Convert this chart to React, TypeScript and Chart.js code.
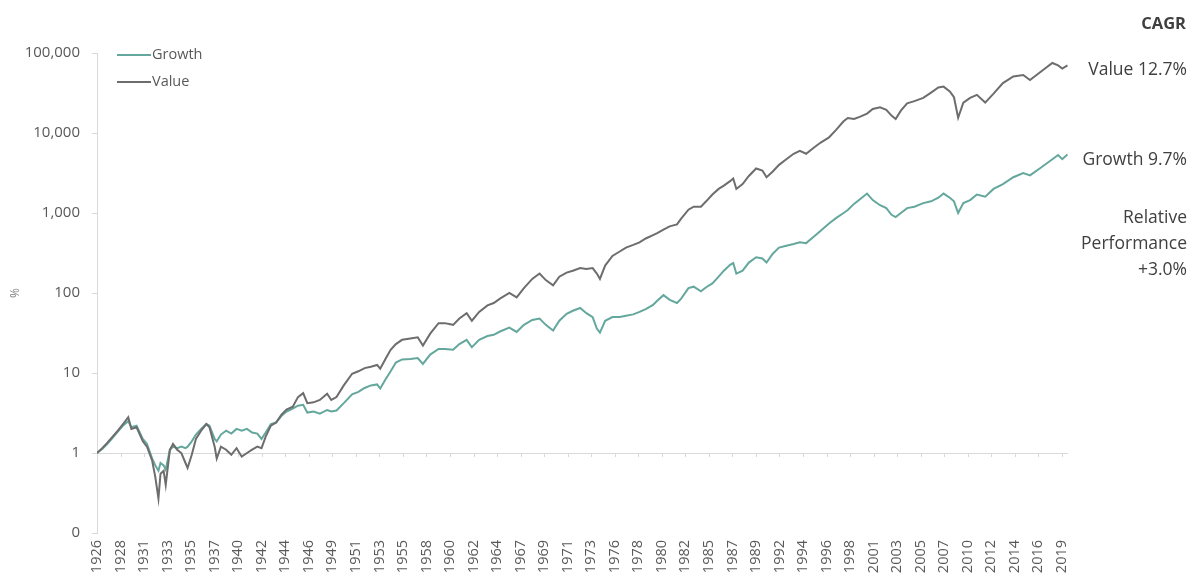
import React, { useEffect, useRef } from "react";
import { Chart, registerables } from "chart.js";

Chart.register(...registerables);

// ---------- data ----------
const YEARS = [
  1926.5, 1927.0, 1927.5, 1928.0, 1928.5, 1929.0, 1929.5, 1929.8, 1930.3, 1930.9,
  1931.3, 1931.8, 1932.1, 1932.4, 1932.6, 1932.9, 1933.1, 1933.5, 1933.8, 1934.2,
  1934.6, 1935.0, 1935.2, 1935.6, 1936.0, 1936.5, 1937.0, 1937.3, 1937.8, 1938.0,
  1938.4, 1938.9, 1939.4, 1939.9, 1940.4, 1940.9, 1941.4, 1941.9, 1942.3, 1942.7,
  1943.2, 1943.7, 1944.2, 1944.7, 1945.3, 1945.8, 1946.3, 1946.7, 1947.3, 1947.9,
  1948.6, 1949.0, 1949.5, 1950.2, 1951.0, 1951.6, 1952.2, 1952.8, 1953.4, 1953.7,
  1954.2, 1954.7, 1955.2, 1955.8, 1956.6, 1957.3, 1957.8, 1958.5, 1959.3, 1959.9,
  1960.7, 1961.3, 1962.0, 1962.5, 1963.2, 1964.0, 1964.6, 1965.2, 1966.1, 1966.8,
  1967.5, 1968.3, 1969.0, 1969.6, 1970.3, 1970.9, 1971.6, 1972.2, 1972.9, 1973.5,
  1974.1, 1974.5, 1974.8, 1975.3, 1976.0, 1976.7, 1977.3, 1978.0, 1978.6, 1979.2,
  1979.9, 1980.3, 1980.9, 1981.5, 1982.2, 1982.6, 1983.3, 1983.8, 1984.5, 1985.0,
  1985.6, 1986.2, 1986.7, 1987.3, 1987.6, 1987.9, 1988.5, 1989.1, 1989.8, 1990.4,
  1990.8, 1991.4, 1992.0, 1992.7, 1993.4, 1994.0, 1994.6, 1995.3, 1996.0, 1996.8,
  1997.5, 1998.2, 1998.6, 1999.2, 1999.8, 2000.45, 2001.0, 2001.7, 2002.3, 2002.8,
  2003.2, 2003.7, 2004.3, 2005.0, 2005.85, 2006.6, 2007.3, 2007.8, 2008.4, 2008.8,
  2009.2, 2009.7, 2010.35, 2011.0, 2011.8, 2012.6, 2013.5, 2014.5, 2015.45, 2016.1,
  2017.1, 2018.25, 2018.8, 2019.2, 2019.7,
];

const VALUE = [
  1.0, 1.15, 1.35, 1.6, 1.9, 2.3, 2.8, 2.0, 2.1, 1.4,
  1.2, 0.8, 0.5, 0.27, 0.55, 0.6, 0.4, 1.1, 1.3, 1.1,
  1.0, 0.75, 0.65, 0.95, 1.5, 1.9, 2.3, 2.1, 1.2, 0.85,
  1.2, 1.1, 0.95, 1.15, 0.9, 1.0, 1.1, 1.2, 1.15, 1.6,
  2.2, 2.4, 3.0, 3.5, 3.8, 5.0, 5.6, 4.2, 4.3, 4.6,
  5.5, 4.6, 5.0, 7.0, 9.8, 10.5, 11.5, 12.0, 12.6, 11.3,
  15.0, 19.5, 23.0, 26.0, 27.0, 28.0, 22.0, 31.0, 42.0, 42.0,
  40.0, 48.0, 56.0, 45.0, 58.0, 70.0, 75, 85, 100, 88,
  115, 150, 175, 145, 125, 160, 180, 190, 205, 200,
  205, 175, 150, 220, 290, 330, 370, 400, 430, 480,
  530, 560, 620, 680, 720, 850, 1100, 1200, 1200, 1400,
  1700, 2000, 2200, 2500, 2700, 2000, 2300, 2900, 3600, 3400,
  2800, 3300, 4000, 4700, 5500, 6000, 5500, 6500, 7600, 8800,
  11000, 14000, 15400, 15000, 16000, 17500, 20000, 21000, 19500, 16500,
  15000, 19000, 23500, 25000, 27500, 32000, 37000, 38000, 33000, 28000,
  15500, 24000, 27500, 30000, 24000, 31000, 42000, 51000, 53000, 46000,
  58000, 75000, 70000, 64000, 70000,
];

const GROWTH = [
  1.0, 1.12, 1.3, 1.55, 1.85, 2.2, 2.5, 2.1, 2.2, 1.5,
  1.3, 0.85, 0.7, 0.6, 0.75, 0.7, 0.62, 1.1, 1.2, 1.15,
  1.2, 1.15, 1.2, 1.4, 1.7, 2.0, 2.3, 2.2, 1.5, 1.4,
  1.7, 1.9, 1.75, 2.0, 1.9, 2.0, 1.8, 1.75, 1.5, 1.8,
  2.3, 2.4, 2.9, 3.3, 3.6, 3.9, 4.0, 3.2, 3.3, 3.1,
  3.45, 3.3, 3.4, 4.2, 5.4, 5.8, 6.5, 7.0, 7.2, 6.4,
  8.3, 10.5, 13.5, 14.8, 15.0, 15.4, 13.0, 17.0, 20.0, 20.0,
  19.5, 23.0, 26.0, 21.0, 26.0, 29.0, 30, 33, 37, 32.6,
  40, 46, 48, 40, 34, 45, 55, 60, 65, 56,
  50, 36, 32, 45, 50, 50, 52, 54, 58, 63,
  71, 80, 94, 82, 75, 85, 115, 120, 105, 118,
  132, 160, 190, 225, 237, 175, 190, 240, 280, 270,
  240, 310, 370, 390, 410, 430, 420, 500, 600, 740,
  870, 1000, 1090, 1300, 1500, 1750, 1450, 1250, 1150, 950,
  890, 1000, 1150, 1200, 1330, 1400, 1550, 1750, 1550, 1400,
  1000, 1330, 1450, 1700, 1600, 2000, 2300, 2800, 3150, 2950,
  3650, 4700, 5300, 4700, 5400,
];

const SERIES_NAMES = ["Growth", "Value"];
const SERIES_COLORS = ["#64a79d", "#6d6d6d"];

const X_TICK_LABELS = [
  "1926", "1928", "1931", "1933", "1935", "1937", "1940", "1942", "1944", "1946",
  "1949", "1951", "1953", "1955", "1958", "1960", "1962", "1964", "1967", "1969",
  "1971", "1973", "1976", "1978", "1980", "1982", "1985", "1987", "1989", "1992",
  "1994", "1996", "1998", "2001", "2003", "2005", "2007", "2010", "2012", "2014",
  "2016", "2019",
];
const X_MIN = 1926.5;
const X_MAX = 2019.75;
const X_TICK_STEP = 2.26;

const Y_TICKS = [0.1, 1, 10, 100, 1000, 10000, 100000];
const Y_TICK_LABELS = ["0", "1", "10", "100", "1,000", "10,000", "100,000"];

const CAGR_TITLE = "CAGR";
const CAGR_LABELS = ["Value 12.7%", "Growth 9.7%"];
const RELATIVE_LINES = ["Relative", "Performance", "+3.0%"];

const FONT = '"Open Sans", "Noto Sans", sans-serif';

export default function App() {
  const canvasRef = useRef<HTMLCanvasElement | null>(null);

  useEffect(() => {
    const canvas = canvasRef.current;
    if (!canvas) return;

    const overlay = {
      id: "overlay",
      beforeDatasetsDraw(chart: any) {
        const { ctx, scales } = chart;
        const xs = scales.x;
        const y1 = scales.y.getPixelForValue(1);
        ctx.save();
        ctx.strokeStyle = "#d9d9d9";
        ctx.lineWidth = 1;
        xs.ticks.forEach((t: any) => {
          const px = Math.round(xs.getPixelForValue(t.value)) + 0.5;
          ctx.beginPath();
          ctx.moveTo(px, y1);
          ctx.lineTo(px, y1 + 4);
          ctx.stroke();
        });
        ctx.restore();
      },
      afterDraw(chart: any) {
        const { ctx } = chart;
        ctx.save();
        // legend
        const legendRows = [55, 82];
        SERIES_NAMES.forEach((name, i) => {
          const y = legendRows[i];
          ctx.strokeStyle = SERIES_COLORS[i];
          ctx.lineWidth = 2;
          ctx.beginPath();
          ctx.moveTo(117, y);
          ctx.lineTo(151, y);
          ctx.stroke();
          ctx.fillStyle = "#595959";
          ctx.font = `14.5px ${FONT}`;
          ctx.textAlign = "left";
          ctx.textBaseline = "middle";
          ctx.fillText(name, 152, y);
        });
        // right annotations
        ctx.fillStyle = "#404040";
        ctx.textAlign = "right";
        ctx.textBaseline = "middle";
        ctx.font = `bold 16.5px ${FONT}`;
        ctx.fillText(CAGR_TITLE, 1186, 24);
        ctx.font = `17.5px ${FONT}`;
        ctx.fillText(CAGR_LABELS[0], 1187, 70);
        ctx.fillText(CAGR_LABELS[1], 1187, 160);
        const relY = [218, 244, 270];
        RELATIVE_LINES.forEach((t, i) => ctx.fillText(t, 1187, relY[i]));
        ctx.restore();
      },
    };

    const chart = new Chart(canvas, {
      type: "line",
      data: {
        datasets: [
          {
            label: SERIES_NAMES[1],
            data: YEARS.map((x, i) => ({ x, y: VALUE[i] })),
            borderColor: SERIES_COLORS[1],
            backgroundColor: SERIES_COLORS[1],
            borderWidth: 2,
            pointRadius: 0,
            tension: 0,
            fill: false,
          },
          {
            label: SERIES_NAMES[0],
            data: YEARS.map((x, i) => ({ x, y: GROWTH[i] })),
            borderColor: SERIES_COLORS[0],
            backgroundColor: SERIES_COLORS[0],
            borderWidth: 2,
            pointRadius: 0,
            tension: 0,
            fill: false,
          },
        ],
      },
      options: {
        animation: false,
        responsive: false,
        maintainAspectRatio: false,
        layout: { padding: { left: 8, top: 53, right: 132, bottom: 0 } },
        plugins: {
          legend: { display: false },
          tooltip: { enabled: false },
          title: { display: false },
        },
        scales: {
          x: {
            type: "linear",
            min: X_MIN,
            max: X_MAX,
            afterBuildTicks: (scale: any) => {
              scale.ticks = X_TICK_LABELS.map((_, i) => ({ value: X_MIN + i * X_TICK_STEP }));
            },
            afterFit: (scale: any) => {
              scale.height = 48;
            },
            grid: { display: false, drawTicks: false },
            border: { display: false },
            ticks: {
              autoSkip: false,
              maxRotation: 90,
              minRotation: 90,
              padding: 7,
              color: "#595959",
              font: { family: FONT, size: 14.5 },
              callback: (_v: any, i: number) => X_TICK_LABELS[i],
            },
          },
          y: {
            type: "logarithmic",
            min: 0.1,
            max: 100000,
            afterBuildTicks: (scale: any) => {
              scale.ticks = Y_TICKS.map((v) => ({ value: v }));
            },
            afterFit: (scale: any) => {
              scale.width = 89;
            },
            title: {
              display: true,
              text: "%",
              color: "#7f7f7f",
              font: { family: FONT, size: 12 },
              padding: 0,
            },
            grid: {
              drawOnChartArea: true,
              color: (c: any) => (c.tick && c.tick.value === 1 ? "#d9d9d9" : "rgba(0,0,0,0)"),
              tickColor: "#d9d9d9",
              tickLength: 5,
              lineWidth: 1,
            },
            border: { display: true, color: "#d9d9d9" },
            ticks: {
              padding: 12,
              color: "#595959",
              font: { family: FONT, size: 15 },
              callback: (v: any) => {
                const idx = Y_TICKS.indexOf(Number(v));
                return idx >= 0 ? Y_TICK_LABELS[idx] : "";
              },
            },
          },
        },
      },
      plugins: [overlay],
    } as any);

    return () => chart.destroy();
  }, []);

  return (
    <div style={{ position: "fixed", left: 0, top: 0, width: 1200, height: 581, background: "#fff" }}>
      <canvas ref={canvasRef} width={1200} height={581} style={{ width: 1200, height: 581, display: "block" }} />
    </div>
  );
}
